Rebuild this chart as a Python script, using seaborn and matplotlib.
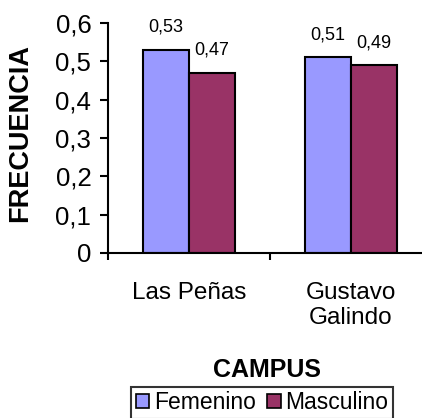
import pandas as pd
import matplotlib
matplotlib.use("Agg")
import matplotlib.pyplot as plt
import seaborn as sns
from matplotlib.ticker import FuncFormatter, FixedLocator

# Data
campus = ["Las Peñas", "Gustavo\nGalindo"]
femenino = [0.53, 0.51]
masculino = [0.47, 0.49]
series = ["Femenino", "Masculino"]
colors = ["#9999FF", "#993366"]

df = pd.DataFrame({
    "Campus": campus * 2,
    "Sexo": [series[0]] * len(campus) + [series[1]] * len(campus),
    "Frecuencia": femenino + masculino,
})

sns.set_style("white")
plt.rcParams["font.family"] = ["Liberation Sans", "DejaVu Sans"]
plt.rcParams.update({"text.color": "black", "axes.labelcolor": "black",
                     "xtick.color": "black", "ytick.color": "black"})

fig = plt.figure(figsize=(4.22, 4.18), dpi=100)
ax = fig.add_axes([108 / 422, 165 / 418, 324 / 422, 230 / 418])

sns.barplot(data=df, x="Campus", y="Frecuencia", hue="Sexo", palette=colors,
            saturation=1, width=0.57, edgecolor="black", linewidth=1.5, ax=ax,
            legend=False)

# value labels with decimal comma
for cont in ax.containers:
    labels = [f"{b.get_height():.2f}".replace(".", ",") for b in cont]
    ax.bar_label(cont, labels=labels, padding=10, fontsize=13)

ax.set_ylim(0, 0.6)
ax.set_xlim(-0.5, 1.5)
ax.set_yticks([0, 0.1, 0.2, 0.3, 0.4, 0.5, 0.6])
ax.yaxis.set_major_formatter(FuncFormatter(
    lambda v, p: "0" if abs(v) < 1e-9 else f"{v:.1f}".replace(".", ",")))
ax.tick_params(axis="y", direction="out", length=6, width=1.5, labelsize=18.5,
               pad=6, left=True)
ax.tick_params(axis="x", which="major", length=0, labelsize=17.5, pad=21)
ax.xaxis.set_minor_locator(FixedLocator([-0.5, 0.5, 1.5]))
ax.tick_params(axis="x", which="minor", direction="out", length=5, width=1.5,
               bottom=True)
for lab in ax.get_xticklabels():
    lab.set_linespacing(1.15)

for s in ["top", "right"]:
    ax.spines[s].set_visible(False)
for s in ["left", "bottom"]:
    ax.spines[s].set_color("black")
    ax.spines[s].set_linewidth(1.5)

ax.set_ylabel("FRECUENCIA", fontsize=19.5, fontweight="bold")
ax.yaxis.set_label_coords(-0.23, 0.52)
ax.set_xlabel("CAMPUS", fontsize=18, fontweight="bold")
ax.xaxis.set_label_coords(0.49, -0.455)

handles = [plt.Rectangle((0, 0), 1, 1, facecolor=c, edgecolor="black", linewidth=1.2)
           for c in colors]
leg = fig.legend(handles, series, loc="upper center", bbox_to_anchor=(0.621, 0.075),
                 ncol=2, fontsize=16.5, frameon=True, fancybox=False,
                 edgecolor="black", handlelength=0.6, handleheight=0.6,
                 handletextpad=0.2, columnspacing=0.5, borderpad=0.2,
                 borderaxespad=0)
leg.get_frame().set_linewidth(1.5)

fig.savefig("out.png", dpi=100)
